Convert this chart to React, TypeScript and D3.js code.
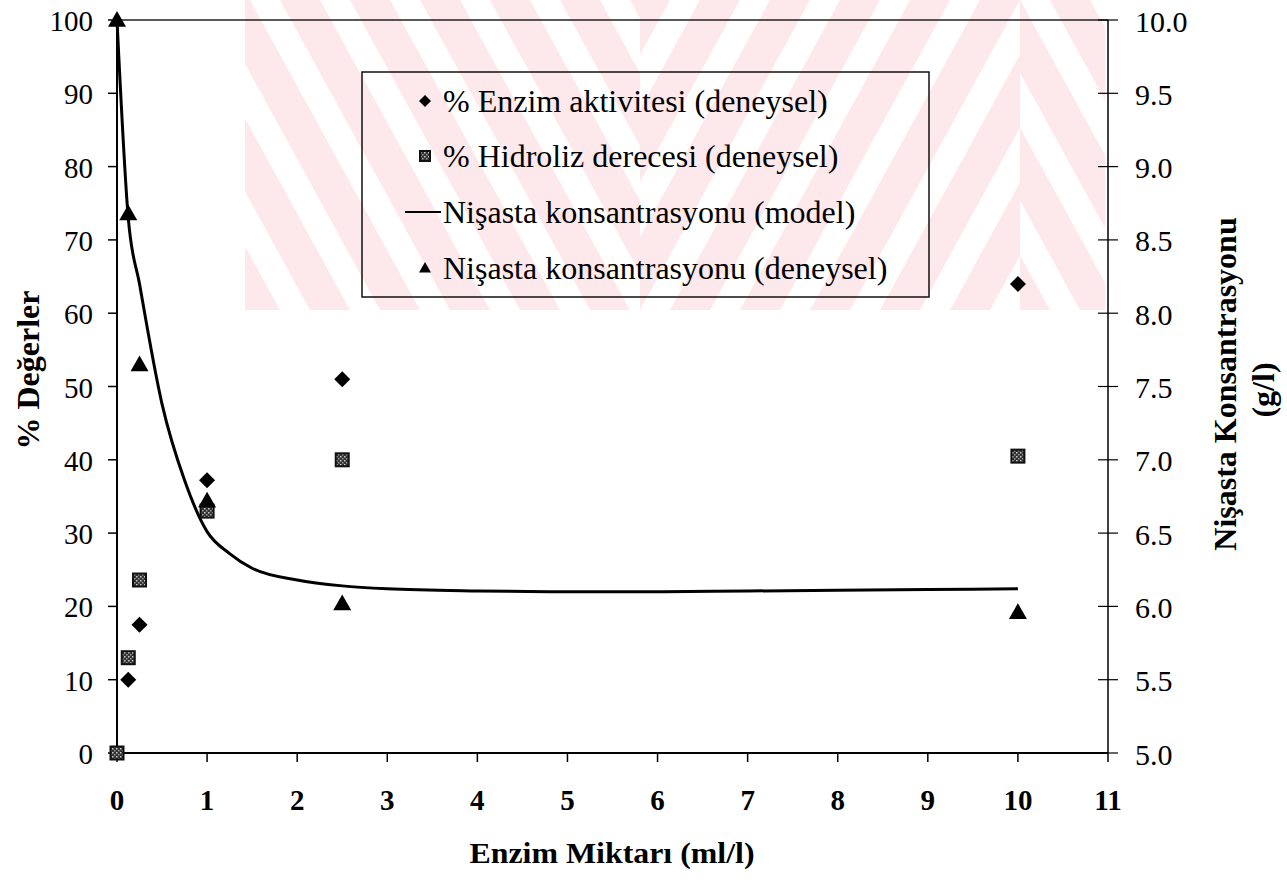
import * as React from "react";
import * as d3 from "d3";

// enzyme amount (ml/l) for each measured series
const activityX = [0.125, 0.25, 1, 2.5, 10];
const activityPct = [10, 17.5, 37.2, 51, 64];
const hydrolysisX = [0, 0.125, 0.25, 1, 2.5, 10];
const hydrolysisPct = [0, 13, 23.6, 33, 40, 40.5];
const starchX = [0, 0.125, 0.25, 1, 2.5, 10];
const starchExp = [10.0, 8.68, 7.65, 6.72, 6.02, 5.96];
const modelX = [0, 0.125, 0.25, 0.5, 0.75, 1, 1.25, 1.5, 2, 2.5, 3, 4, 5, 6, 7, 8, 9, 10];
const modelStarch = [10, 8.65, 8.2, 7.38, 6.86, 6.51, 6.36, 6.26, 6.18, 6.14, 6.12, 6.105, 6.1, 6.1, 6.105, 6.11, 6.115, 6.12];

const xTicks = d3.range(0, 12);
const leftTicks = d3.range(0, 101, 10);
const rightTicks = d3.range(5, 10.01, 0.5);

const legendLabels = [
  "% Enzim aktivitesi (deneysel)",
  "% Hidroliz derecesi (deneysel)",
  "Nişasta konsantrasyonu (model)",
  "Nişasta konsantrasyonu (deneysel)",
];

const serif = { fontFamily: '"Liberation Serif", "Times New Roman", "DejaVu Serif", serif' };

function Diamond(props: { cx: number; cy: number; r?: number }) {
  const r = props.r || 8;
  const p = `M${props.cx},${props.cy - r}L${props.cx + r},${props.cy}L${props.cx},${props.cy + r}L${props.cx - r},${props.cy}Z`;
  return <path d={p} fill="#000" />;
}

function Square(props: { cx: number; cy: number; s?: number }) {
  const s = props.s || 13;
  return (
    <rect
      x={props.cx - s / 2}
      y={props.cy - s / 2}
      width={s}
      height={s}
      fill="url(#speckle)"
      stroke="#111"
      strokeWidth={2}
    />
  );
}

function Triangle(props: { cx: number; cy: number; s?: number }) {
  const s = props.s || 9;
  const p = `M${props.cx},${props.cy - s}L${props.cx + s},${props.cy + s * 0.75}L${props.cx - s},${props.cy + s * 0.75}Z`;
  return <path d={p} fill="#000" />;
}

export default function App() {
  const width = 1287;
  const height = 882;

  const x = d3.scaleLinear().domain([0, 11]).range([117, 1108]);
  const yL = d3.scaleLinear().domain([0, 100]).range([753, 20]);
  const yR = d3.scaleLinear().domain([5, 10]).range([753, 20]);

  const modelLine = d3
    .line<number>()
    .x((d, i) => x(modelX[i]))
    .y((d) => yR(d))
    .curve(d3.curveMonotoneX);

  // faint watermark stripes behind the chart
  const stripes = d3.range(-6, 22).map((i) => i * 70);

  const legX = 425;
  const legRows = [101, 156, 212, 268];

  return (
    <svg width={width} height={height} style={{ position: "absolute", left: 0, top: 0, ...serif }}>
      <defs>
        <pattern id="speckle" width={4} height={4} patternUnits="userSpaceOnUse">
          <rect width={4} height={4} fill="#333" />
          <rect x={0} y={0} width={1.5} height={1.5} fill="#ccc" />
          <rect x={2} y={2} width={1.5} height={1.5} fill="#999" />
        </pattern>
        <clipPath id="wmLeft">
          <rect x={245} y={0} width={395} height={310} />
        </clipPath>
        <clipPath id="wmRight">
          <rect x={640} y={0} width={380} height={310} />
        </clipPath>
        <clipPath id="wmFar">
          <rect x={1020} y={0} width={85} height={310} />
        </clipPath>
      </defs>
      <rect width={width} height={height} fill="#fff" />

      <g fill="#fde8ec">
        <g clipPath="url(#wmLeft)">
          {stripes.map((s, i) => (
            <path key={i} d={`M${s},0L${s + 40},0L${s + 40 + 170},310L${s + 170},310Z`} />
          ))}
        </g>
        <g clipPath="url(#wmRight)">
          {stripes.map((s, i) => (
            <path key={i} d={`M${s},0L${s + 40},0L${s + 40 - 170},310L${s - 170},310Z`} />
          ))}
        </g>
        <g clipPath="url(#wmFar)">
          {stripes.map((s, i) => (
            <path key={i} d={`M${s},0L${s + 40},0L${s + 40 + 170},310L${s + 170},310Z`} />
          ))}
        </g>
      </g>

      {/* frame */}
      <line x1={x(0)} x2={x(11)} y1={yL(100)} y2={yL(100)} stroke="#222" strokeWidth={1.5} />
      <line x1={x(0)} x2={x(11)} y1={yL(0)} y2={yL(0)} stroke="#000" strokeWidth={2} />
      <line x1={x(0)} x2={x(0)} y1={yL(0)} y2={yL(100)} stroke="#000" strokeWidth={2} />
      <line x1={x(11)} x2={x(11)} y1={yL(0)} y2={yL(100)} stroke="#000" strokeWidth={1.5} />

      {/* x axis */}
      {xTicks.map((d) => (
        <g key={d} transform={`translate(${x(d)}, ${yL(0)})`}>
          <line y1={0} y2={9} stroke="#000" strokeWidth={1.5} />
          <text y={57} textAnchor="middle" style={serif} fontWeight="bold" fontSize={29}>
            {d}
          </text>
        </g>
      ))}

      {/* left axis */}
      {leftTicks.map((d) => (
        <g key={d} transform={`translate(${x(0)}, ${yL(d)})`}>
          <line x1={-9} x2={0} stroke="#000" strokeWidth={1.5} />
          <text x={-24} y={1} textAnchor="end" dominantBaseline="central" style={serif} fontSize={29}>
            {d}
          </text>
        </g>
      ))}

      {/* right axis */}
      {rightTicks.map((d) => (
        <g key={d} transform={`translate(${x(11)}, ${yR(d)})`}>
          <line x1={-10} x2={10} stroke="#000" strokeWidth={1.2} />
          <text x={27} y={1} dominantBaseline="central" style={serif} fontSize={30}>
            {d.toFixed(1)}
          </text>
        </g>
      ))}

      {/* axis titles */}
      <text
        x={612}
        y={863}
        textAnchor="middle"
        style={serif}
        fontWeight="bold"
        fontSize={30}
        textLength={285}
        lengthAdjust="spacingAndGlyphs"
      >
        Enzim Miktarı (ml/l)
      </text>
      <text
        transform={`translate(28, 370) rotate(-90)`}
        textAnchor="middle"
        dominantBaseline="central"
        style={serif}
        fontWeight="bold"
        fontSize={32}
      >
        % Değerler
      </text>
      <text
        transform={`translate(1225, 384) rotate(-90)`}
        textAnchor="middle"
        dominantBaseline="central"
        style={serif}
        fontWeight="bold"
        fontSize={32}
      >
        Nişasta Konsantrasyonu
      </text>
      <text
        transform={`translate(1263, 390) rotate(-90)`}
        textAnchor="middle"
        dominantBaseline="central"
        style={serif}
        fontWeight="bold"
        fontSize={32}
      >
        (g/l)
      </text>

      {/* model line */}
      <path d={modelLine(modelStarch) || ""} fill="none" stroke="#000" strokeWidth={3} />

      {/* points */}
      {hydrolysisPct.map((v, i) => (
        <Square key={"h" + i} cx={x(hydrolysisX[i])} cy={yL(v)} />
      ))}
      {activityPct.map((v, i) => (
        <Diamond key={"a" + i} cx={x(activityX[i])} cy={yL(v)} />
      ))}
      {starchExp.map((v, i) => (
        <Triangle key={"s" + i} cx={x(starchX[i])} cy={yR(v)} />
      ))}

      {/* legend */}
      <rect x={362} y={72} width={567} height={225} fill="none" stroke="#111" strokeWidth={1.5} />
      <Diamond cx={legX} cy={legRows[0]} r={6} />
      <Square cx={legX} cy={legRows[1]} s={10} />
      <line x1={405} x2={441} y1={legRows[2]} y2={legRows[2]} stroke="#000" strokeWidth={2} />
      <Triangle cx={legX} cy={legRows[3]} s={6} />
      {legendLabels.map((t, i) => (
        <text
          key={t}
          x={443}
          y={legRows[i]}
          dominantBaseline="central"
          style={serif}
          fontSize={32}
        >
          {t}
        </text>
      ))}
    </svg>
  );
}
